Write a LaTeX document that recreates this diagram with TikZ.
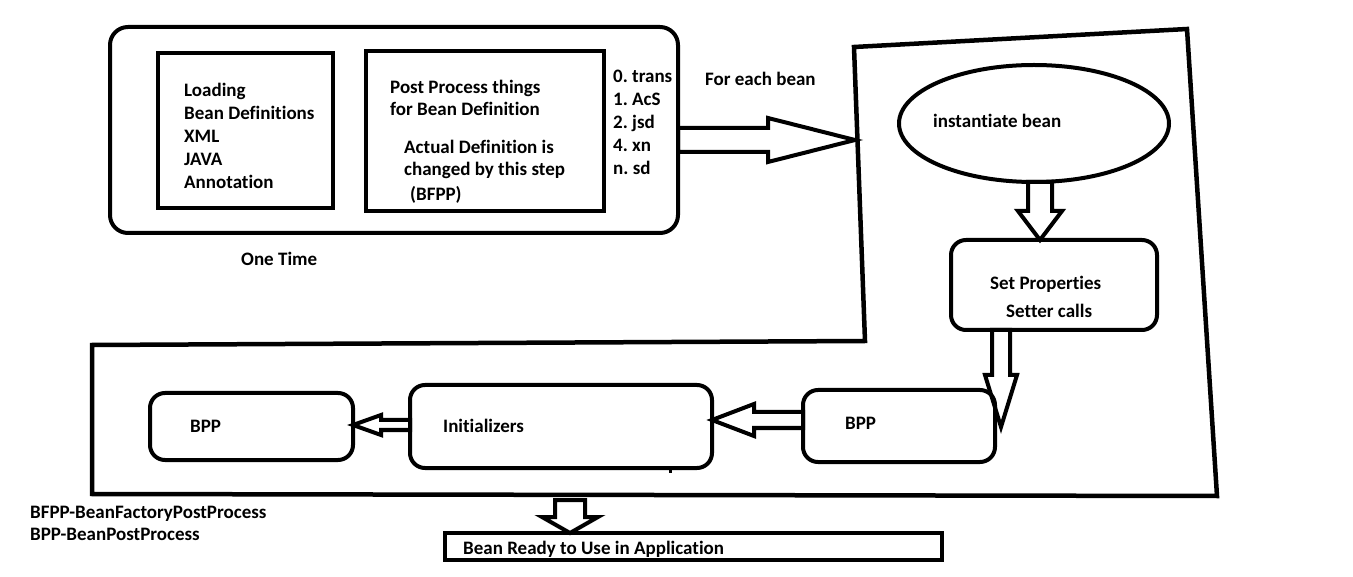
\documentclass[tikz,border=0pt]{standalone}
\usepackage{fontspec}
\setmainfont{Carlito}[RawFeature={-liga}]
\usetikzlibrary{calc,shapes.geometric}
\frenchspacing
\tikzset{
  box/.style={draw, line width=4pt, outer sep=0pt, inner sep=0pt},
  rbox/.style={box, rounded corners=15pt},
  txt/.style={inner sep=0pt, anchor=base west, font=\bfseries\fontsize{19}{23}\selectfont\frenchspacing},
  barrow/.style={draw, line width=4pt, line join=miter},
  frame/.style={draw, line width=4.5pt, line join=miter}
}
\newcommand\blockarrow[5]{%
  \coordinate (ba-h) at ($(#2)!#5!(#1)$);
  \draw[barrow] ($(#1)!#3!90:(#2)$) -- ($(ba-h)!#3!90:(#2)$) -- ($(ba-h)!#4!90:(#2)$) -- (#2)
    -- ($(ba-h)!#4!-90:(#2)$) -- ($(ba-h)!#3!-90:(#2)$) -- ($(#1)!#3!-90:(#2)$) -- cycle;
}
\begin{document}
\begin{tikzpicture}[x=1pt,y=-1pt]
\useasboundingbox (0,0) rectangle (1353,577);

% one-time part
\node[rbox, rounded corners=18pt, minimum width=568pt, minimum height=206pt] (outer) at (394,130) {};
\node[box, minimum width=175pt, minimum height=155pt] (load) at (245.5,130.5) {};
\node[box, minimum width=238pt, minimum height=160pt] (post) at (485,131) {};

\node[txt] (t1) at (184,97) {Loading};
\node[txt] (t2) at (184,120) {Bean Definitions};
\node[txt] (t3) at (184,143) {XML};
\node[txt] (t4) at (184,166) {JAVA};
\node[txt] (t5) at (184,189) {Annotation};

\node[txt] (p1) at (390,94) {Post Process things};
\node[txt] (p2) at (390,116) {for Bean Definition};
\node[txt] (p3) at (404,154) {Actual Definition is};
\node[txt] (p4) at (404,176) {changed by this step};
\node[txt] (p5) at (410,201) {(BFPP)};

\node[txt] (l0) at (613,83) {0. trans};
\node[txt] (l1) at (613,106) {1. AcS};
\node[txt] (l2) at (613,129) {2. jsd};
\node[txt] (l3) at (613,152) {4. xn};
\node[txt] (l4) at (613,175) {n. sd};

\node[txt] (each) at (705,86) {For each bean};
\node[txt] (once) at (241,266) {One Time};

% for-each-bean frame
\draw[frame] (854,47) -- (1187,29) -- (1217,496) -- (92,494) -- (92,345) -- (865,341) -- cycle;

% per-bean steps
\node[box, ellipse, minimum width=270pt, minimum height=117pt] (inst) at (1034,123.5) {};
\node[txt] (instt) at (933,128) {instantiate bean};

\node[rbox, minimum width=206pt, minimum height=90pt] (setp) at (1054,285) {};
\node[txt] (s1) at (990,290) {Set Properties};
\node[txt] (s2) at (1006,318) {Setter calls};

\node[rbox, minimum width=192pt, minimum height=72pt] (bppr) at (899,426) {};
\node[txt] (bpprt) at (845,429) {BPP};

\node[rbox, minimum width=302pt, minimum height=83pt] (init) at (561,426.5) {};
\node[txt] (initt) at (443,432) {Initializers};

\node[rbox, minimum width=203pt, minimum height=67pt] (bppl) at (251.5,426.5) {};
\node[txt] (bpplt) at (190,432) {BPP};

\coordinate (tick) at (670,0);
\draw[line width=3pt] (init.south -| tick) -- ++(0,5);

\node[box, line width=3.5pt, minimum width=497pt, minimum height=27pt] (ready) at (693.5,546.5) {};
\node[txt] (readyt) at (463,554) {Bean Ready to Use in Application};

\node[txt] (n1) at (30,518) {BFPP-BeanFactoryPostProcess};
\node[txt] (n2) at (30,540) {BPP-BeanPostProcess};

% block arrows
\coordinate (entry) at (855,140);
\coordinate (a1s) at (outer.east |- entry);
\blockarrow{a1s}{entry}{12pt}{22pt}{87pt}

\coordinate (a2s) at ([xshift=6pt]inst.south);
\coordinate (a2t) at (setp.north -| a2s);
\blockarrow{a2s}{a2t}{12pt}{22pt}{29pt}

\coordinate (x3) at (1001,0);
\coordinate (a3s) at (setp.south -| x3);
\coordinate (a3t) at (1001,427);
\blockarrow{a3s}{a3t}{9pt}{16pt}{52pt}

\coordinate (y4) at (0,420);
\coordinate (a4s) at (bppr.west |- y4);
\coordinate (a4t) at (init.east |- y4);
\blockarrow{a4s}{a4t}{8pt}{16pt}{42pt}

\coordinate (y5) at (0,425);
\coordinate (a5s) at (init.west |- y5);
\coordinate (a5t) at (bppl.east |- y5);
\blockarrow{a5s}{a5t}{5pt}{10pt}{28pt}

\coordinate (a6s) at (570,500);
\coordinate (a6t) at (ready.north -| a6s);
\blockarrow{a6s}{a6t}{15pt}{28pt}{16pt}
\end{tikzpicture}
\end{document}
